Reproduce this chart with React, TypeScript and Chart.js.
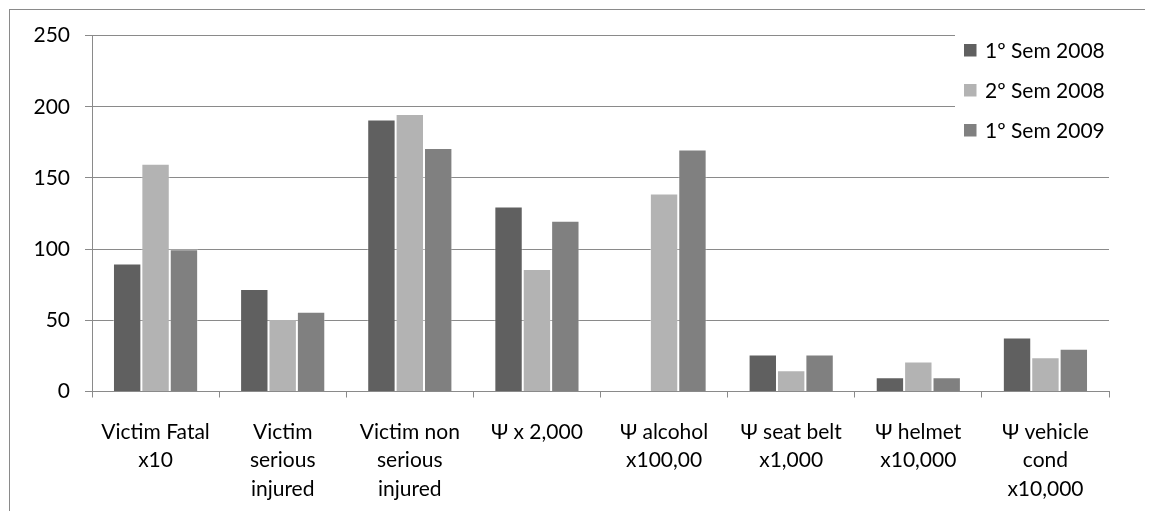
import React, { useEffect, useRef } from "react";
import { Chart, registerables } from "chart.js";

Chart.register(...registerables);

const categories: string[][] = [
  ["Victim Fatal", "x10"],
  ["Victim", "serious", "injured"],
  ["Victim non", "serious", "injured"],
  ["Ψ x 2,000"],
  ["Ψ alcohol", "x100,00"],
  ["Ψ seat belt", "x1,000"],
  ["Ψ helmet", "x10,000"],
  ["Ψ vehicle", "cond", "x10,000"],
];

const seriesNames = ["1º Sem 2008", "2º Sem 2008", "1º Sem 2009"];
const sem1_2008: (number | null)[] = [90, 72, 191, 130, null, 26, 10, 38];
const sem2_2008: (number | null)[] = [160, 51, 195, 86, 139, 15, 21, 24];
const sem1_2009: (number | null)[] = [100, 56, 171, 120, 170, 26, 10, 30];
const seriesColors = ["#606060", "#b3b3b3", "#808080"];

const yMin = 0;
const yMax = 250;
const yStep = 50;

const FONT = "Lato, 'Open Sans', sans-serif";
const FONT_SIZE = 21;

export default function App() {
  const canvasRef = useRef<HTMLCanvasElement | null>(null);

  useEffect(() => {
    if (!canvasRef.current) return;

    const framePlugin = {
      id: "frame",
      beforeDraw(chart: any) {
        const { ctx, width, height } = chart;
        ctx.save();
        ctx.fillStyle = "#ffffff";
        ctx.fillRect(0, 0, width, height);
        ctx.fillStyle = "#8a8a8a";
        ctx.fillRect(1, 1, 1, height);
        ctx.fillRect(1, 1, width, 1);
        ctx.restore();
      },
    };

    const legendPlugin = {
      id: "overlayLegend",
      afterDatasetsDraw(chart: any) {
        const { ctx } = chart;
        ctx.save();
        ctx.fillStyle = "#ffffff";
        ctx.fillRect(947, 18, 200, 130);
        ctx.font = `${FONT_SIZE}px ${FONT}`;
        ctx.textBaseline = "middle";
        ctx.textAlign = "left";
        chart.data.datasets.forEach((ds: any, i: number) => {
          const cy = 42 + i * 40;
          ctx.fillStyle = ds.backgroundColor;
          ctx.fillRect(956, cy - 6, 12.5, 12.5);
          ctx.fillStyle = "#000000";
          ctx.fillText(ds.label, 977, cy + 1);
        });
        ctx.restore();
      },
    };

    const data = [sem1_2008, sem2_2008, sem1_2009];

    const chart = new Chart(canvasRef.current, {
      type: "bar",
      data: {
        labels: categories,
        datasets: seriesNames.map((name, i) => ({
          label: name,
          data: data[i],
          backgroundColor: seriesColors[i],
          borderColor: "rgba(255,255,255,0.35)",
          borderWidth: 1,
          categoryPercentage: 0.67,
          barPercentage: 1,
        })),
      },
      options: {
        animation: false,
        responsive: true,
        maintainAspectRatio: false,
        layout: { padding: { top: 25, right: 44, left: 0, bottom: 0 } },
        plugins: {
          legend: { display: false },
          tooltip: { enabled: false },
        },
        scales: {
          x: {
            grid: {
              display: true,
              drawOnChartArea: false,
              drawTicks: true,
              tickLength: 6,
              tickColor: "#8a8a8a",
              offset: true,
            },
            border: { display: true, color: "#8a8a8a", width: 1 },
            ticks: {
              autoSkip: false,
              maxRotation: 0,
              minRotation: 0,
              padding: 20,
              color: "#000000",
              font: { family: FONT, size: FONT_SIZE, lineHeight: 1.357 },
            },
            afterFit(scale: any) {
              scale.height = 119.5;
            },
          },
          y: {
            min: yMin,
            max: yMax,
            ticks: {
              stepSize: yStep,
              padding: 15,
              color: "#000000",
              font: { family: FONT, size: FONT_SIZE },
            },
            grid: {
              color: "#8a8a8a",
              lineWidth: 1,
              tickLength: 7,
              tickColor: "#8a8a8a",
            },
            border: { display: true, color: "#8a8a8a", width: 1 },
            afterFit(scale: any) {
              scale.width = 84;
            },
          },
        },
      },
      plugins: [framePlugin, legendPlugin],
    });

    return () => chart.destroy();
  }, []);

  return (
    <div style={{ width: 1145, height: 503, position: "relative" }}>
      <canvas ref={canvasRef} />
    </div>
  );
}
